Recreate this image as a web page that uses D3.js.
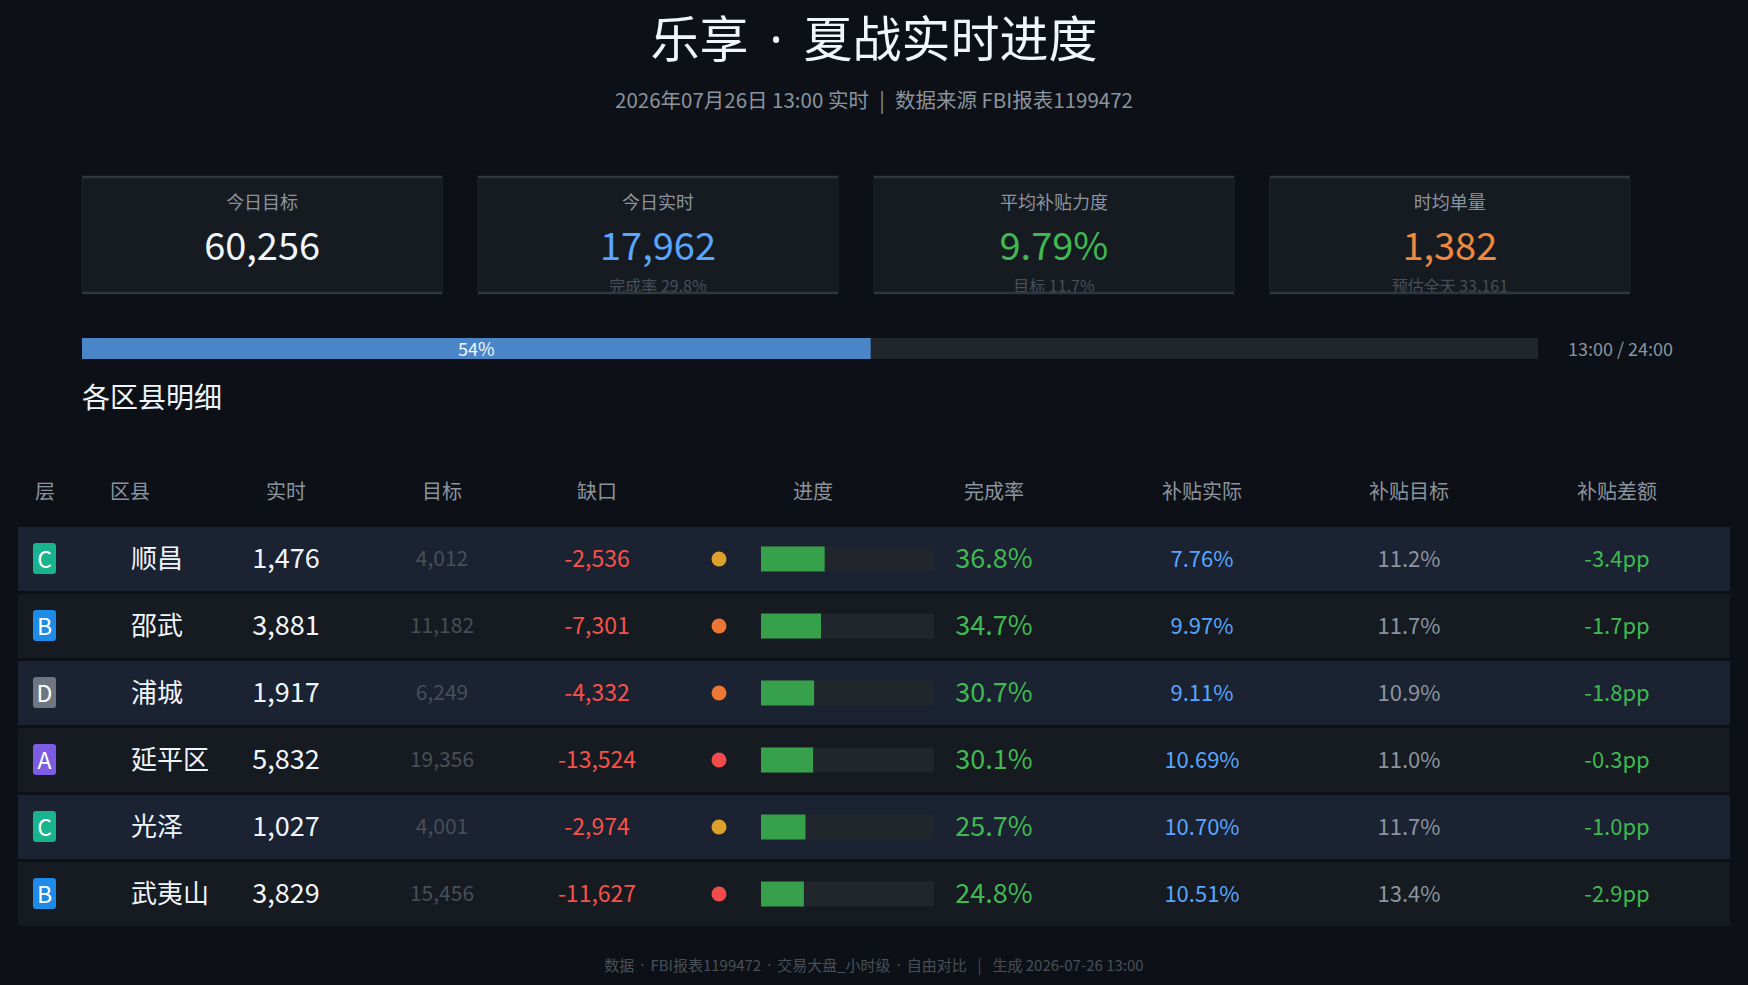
<!DOCTYPE html>
<html>
<head>
<meta charset="utf-8">
<script src="https://cdn.jsdelivr.net/npm/d3@7"></script>
<style>
  html, body { margin: 0; padding: 0; background: #0d1117; }
  svg { display: block; font-family: "Noto Sans CJK SC", "Noto Sans", sans-serif; }
</style>
</head>
<body>
<div id="board"></div>
<script>
// ////////////////////////////////////////////////////////////////////////////
// DATA
// ////////////////////////////////////////////////////////////////////////////
const kpiLabels = ['今日目标', '今日实时', '平均补贴力度', '时均单量'];
const kpiValues = ['60,256', '17,962', '9.79%', '1,382'];
const kpiNotes = ['', '完成率 29.8%', '目标 11.7%', '预估全天 33,161'];

const hourNow = 13;
const hourTotal = 24;

const headers = ['层', '区县', '实时', '目标', '缺口', '进度', '完成率', '补贴实际', '补贴目标', '补贴差额'];
const tiers = ['C', 'B', 'D', 'A', 'C', 'B'];
const districts = ['顺昌', '邵武', '浦城', '延平区', '光泽', '武夷山'];
const actual = [1476, 3881, 1917, 5832, 1027, 3829];
const target = [4012, 11182, 6249, 19356, 4001, 15456];
const shortfall = [-2536, -7301, -4332, -13524, -2974, -11627];
const status = ['warn', 'alert', 'alert', 'danger', 'warn', 'danger'];
const completion = [36.8, 34.7, 30.7, 30.1, 25.7, 24.8];
const subsidyActual = [7.76, 9.97, 9.11, 10.69, 10.70, 10.51];
const subsidyTarget = [11.2, 11.7, 10.9, 11.0, 11.7, 13.4];
const subsidyDiff = [-3.4, -1.7, -1.8, -0.3, -1.0, -2.9];

const footerParts = ['数据', 'FBI报表1199472', '交易大盘_小时级', '自由对比 \u2002|\u2002 生成 2026-07-26 13:00'];

// ////////////////////////////////////////////////////////////////////////////
// SET UP
// ////////////////////////////////////////////////////////////////////////////
const W = 1748;
const H = 985;
// plain hyphen for negatives, like the source dashboard
const locale = d3.formatLocale({ decimal: '.', thousands: ',', grouping: [3], currency: ['', ''], minus: '-' });
const commaFormat = locale.format(',');

const colors = {
  bg: '#0d1117',
  card: '#161b22',
  border: '#30363d',
  track: '#21262d',
  text: '#f0f6fc',
  muted: '#8b949e',
  dim: '#484f58',
  blue: '#58a6ff',
  green: '#3fb950',
  orange: '#f0883e',
  red: '#f85149',
};
const kpiColors = [colors.text, colors.blue, colors.green, colors.orange];
const tierColor = d3.scaleOrdinal()
  .domain(['A', 'B', 'C', 'D'])
  .range(['#7d5ce4', '#1f8be8', '#17b48d', '#6e7681']);
const statusColor = d3.scaleOrdinal()
  .domain(['warn', 'alert', 'danger'])
  .range(['#dda02a', '#ec7634', '#f24b4b']);

const svg = d3.select('#board').append('svg')
  .attr('width', W)
  .attr('height', H);

svg.append('rect').attr('width', W).attr('height', H).attr('fill', colors.bg);

// the CJK font draws "·" full width; take the narrow latin one instead
function dotted(sel, parts, gap) {
  parts.forEach((p, i) => {
    if (i > 0) {
      sel.append('tspan').attr('font-family', 'Noto Sans').attr('dx', gap).text('·');
    }
    sel.append('tspan').attr('dx', i > 0 ? gap : null).text(p);
  });
}

// ////////////////////////////////////////////////////////////////////////////
// HEADER
// ////////////////////////////////////////////////////////////////////////////
const title = svg.append('text')
  .attr('x', W / 2).attr('y', 57)
  .attr('text-anchor', 'middle')
  .attr('font-size', 49).attr('fill', colors.text);
dotted(title, ['乐享', '夏战实时进度'], 21);

svg.append('text')
  .attr('x', W / 2).attr('y', 99)
  .attr('text-anchor', 'middle').attr('dominant-baseline', 'central')
  .attr('font-size', 20.5).attr('fill', colors.muted)
  .text('2026年07月26日 13:00 实时\u2002|\u2002数据来源 FBI报表1199472');

// ////////////////////////////////////////////////////////////////////////////
// KPI CARDS
// ////////////////////////////////////////////////////////////////////////////
const cardX = d3.scaleBand()
  .domain(kpiLabels)
  .range([82, 1630])
  .paddingInner(0.09);
const cardTop = 177;
const cardH = 116;

const cards = svg.selectAll('g.card')
  .data(kpiLabels)
  .enter()
  .append('g')
    .attr('class', 'card')
    .attr('transform', d => `translate(${cardX(d)},${cardTop})`);

cards.append('clipPath')
  .attr('id', (d, i) => `clip-${i}`)
  .append('rect')
    .attr('width', cardX.bandwidth())
    .attr('height', cardH);

cards.append('rect')
  .attr('width', cardX.bandwidth())
  .attr('height', cardH)
  .attr('rx', 2)
  .attr('fill', colors.card)
  .attr('stroke', '#1f242b');

const cardBody = cards.append('g').attr('clip-path', (d, i) => `url(#clip-${i})`);

cardBody.append('text')
  .attr('x', cardX.bandwidth() / 2).attr('y', 24)
  .attr('text-anchor', 'middle').attr('dominant-baseline', 'central')
  .attr('font-size', 18).attr('fill', colors.muted)
  .text(d => d);

cardBody.append('text')
  .attr('x', cardX.bandwidth() / 2).attr('y', 66)
  .attr('text-anchor', 'middle').attr('dominant-baseline', 'central')
  .attr('font-size', 38).attr('fill', (d, i) => kpiColors[i])
  .text((d, i) => kpiValues[i]);

cardBody.append('text')
  .attr('x', cardX.bandwidth() / 2).attr('y', 108)
  .attr('text-anchor', 'middle').attr('dominant-baseline', 'central')
  .attr('font-size', 16).attr('fill', colors.dim)
  .text((d, i) => kpiNotes[i]);

// top and bottom edges are brighter than the sides
[0, cardH].forEach((y) => {
  cards.append('line')
    .attr('x1', 0).attr('x2', cardX.bandwidth())
    .attr('y1', y).attr('y2', y)
    .attr('stroke', colors.border)
    .attr('stroke-width', 2.5);
});

// ////////////////////////////////////////////////////////////////////////////
// TIME PROGRESS
// ////////////////////////////////////////////////////////////////////////////
const timeScale = d3.scaleLinear().domain([0, 1]).range([82, 1538]);
const timeShare = hourNow / hourTotal;

svg.append('rect')
  .attr('x', timeScale(0)).attr('y', 338)
  .attr('width', timeScale(1) - timeScale(0)).attr('height', 21)
  .attr('fill', colors.track);

svg.append('rect')
  .attr('x', timeScale(0)).attr('y', 338)
  .attr('width', timeScale(timeShare) - timeScale(0)).attr('height', 21)
  .attr('fill', '#4a85c7');

svg.append('text')
  .attr('x', (timeScale(0) + timeScale(timeShare)) / 2).attr('y', 348)
  .attr('text-anchor', 'middle').attr('dominant-baseline', 'central')
  .attr('font-size', 18).attr('fill', colors.text)
  .text(d3.format('.0%')(timeShare));

svg.append('text')
  .attr('x', 1568).attr('y', 348)
  .attr('dominant-baseline', 'central')
  .attr('font-size', 18).attr('fill', colors.muted)
  .text(`${hourNow}:00 / ${hourTotal}:00`);

svg.append('text')
  .attr('x', 82).attr('y', 396)
  .attr('dominant-baseline', 'central')
  .attr('font-size', 28).attr('fill', colors.text)
  .text('各区县明细');

// ////////////////////////////////////////////////////////////////////////////
// TABLE
// ////////////////////////////////////////////////////////////////////////////
// column centres (区县 is left aligned)
const colX = d3.scaleOrdinal()
  .domain(headers)
  .range([45, 110, 286, 442, 597, 813, 994, 1202, 1409, 1617]);

svg.selectAll('text.head')
  .data(headers)
  .enter()
  .append('text')
    .attr('class', 'head')
    .attr('x', d => colX(d))
    .attr('y', 490)
    .attr('text-anchor', d => (d === '区县' ? 'start' : 'middle'))
    .attr('dominant-baseline', 'central')
    .attr('font-size', 20)
    .attr('fill', colors.muted)
    .text(d => d);

const rowY = d3.scaleBand()
  .domain(districts)
  .range([527, 926])
  .paddingInner(0.045);
const miniX = d3.scaleLinear().domain([0, 100]).range([0, 173]);

const rows = svg.selectAll('g.row')
  .data(districts)
  .enter()
  .append('g')
    .attr('class', 'row')
    .attr('transform', d => `translate(0,${rowY(d)})`);

const mid = rowY.bandwidth() / 2;
const textMid = mid - 2;

rows.append('rect')
  .attr('x', 18).attr('width', 1712)
  .attr('height', rowY.bandwidth())
  .attr('fill', (d, i) => (i % 2 === 0 ? '#1b2231' : '#161a21'));

// tier badge
rows.append('rect')
  .attr('x', 33).attr('y', mid - 16)
  .attr('width', 23).attr('height', 31)
  .attr('rx', 3)
  .attr('fill', (d, i) => tierColor(tiers[i]));

rows.append('text')
  .attr('x', 44.5).attr('y', textMid + 1)
  .attr('text-anchor', 'middle').attr('dominant-baseline', 'central')
  .attr('font-size', 23).attr('fill', '#ffffff')
  .text((d, i) => tiers[i]);

rows.append('text')
  .attr('x', 131).attr('y', textMid)
  .attr('dominant-baseline', 'central')
  .attr('font-size', 26).attr('fill', colors.text)
  .text(d => d);

rows.append('text')
  .attr('x', colX('实时')).attr('y', textMid)
  .attr('text-anchor', 'middle').attr('dominant-baseline', 'central')
  .attr('font-size', 27).attr('fill', colors.text)
  .text((d, i) => commaFormat(actual[i]));

rows.append('text')
  .attr('x', colX('目标')).attr('y', textMid)
  .attr('text-anchor', 'middle').attr('dominant-baseline', 'central')
  .attr('font-size', 21).attr('fill', colors.dim)
  .text((d, i) => commaFormat(target[i]));

rows.append('text')
  .attr('x', colX('缺口')).attr('y', textMid)
  .attr('text-anchor', 'middle').attr('dominant-baseline', 'central')
  .attr('font-size', 23).attr('fill', colors.red)
  .text((d, i) => commaFormat(shortfall[i]));

rows.append('circle')
  .attr('cx', 719).attr('cy', mid)
  .attr('r', 7.5)
  .attr('fill', (d, i) => statusColor(status[i]));

rows.append('rect')
  .attr('x', 761).attr('y', mid - 12.5)
  .attr('width', miniX(100)).attr('height', 25)
  .attr('fill', colors.track);

rows.append('rect')
  .attr('x', 761).attr('y', mid - 12.5)
  .attr('width', (d, i) => miniX(completion[i])).attr('height', 25)
  .attr('fill', '#37a04a');

rows.append('text')
  .attr('x', colX('完成率')).attr('y', textMid)
  .attr('text-anchor', 'middle').attr('dominant-baseline', 'central')
  .attr('font-size', 27).attr('fill', colors.green)
  .text((d, i) => `${completion[i].toFixed(1)}%`);

rows.append('text')
  .attr('x', colX('补贴实际')).attr('y', textMid)
  .attr('text-anchor', 'middle').attr('dominant-baseline', 'central')
  .attr('font-size', 22).attr('fill', colors.blue)
  .text((d, i) => `${subsidyActual[i].toFixed(2)}%`);

rows.append('text')
  .attr('x', colX('补贴目标')).attr('y', textMid)
  .attr('text-anchor', 'middle').attr('dominant-baseline', 'central')
  .attr('font-size', 22).attr('fill', colors.muted)
  .text((d, i) => `${subsidyTarget[i].toFixed(1)}%`);

rows.append('text')
  .attr('x', colX('补贴差额')).attr('y', textMid)
  .attr('text-anchor', 'middle').attr('dominant-baseline', 'central')
  .attr('font-size', 22).attr('fill', colors.green)
  .text((d, i) => `${subsidyDiff[i].toFixed(1)}pp`);

// ////////////////////////////////////////////////////////////////////////////
// FOOTER
// ////////////////////////////////////////////////////////////////////////////
const footer = svg.append('text')
  .attr('x', W / 2).attr('y', 964)
  .attr('text-anchor', 'middle').attr('dominant-baseline', 'central')
  .attr('font-size', 15).attr('fill', colors.dim);
dotted(footer, footerParts, 6);
</script>
</body>
</html>
